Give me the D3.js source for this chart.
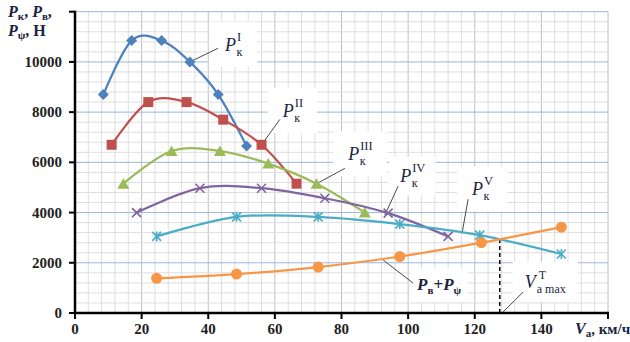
<!DOCTYPE html>
<html>
<head>
<meta charset="utf-8">
<script src="https://cdn.jsdelivr.net/npm/d3@7"></script>
<style>
  body { margin: 0; background: #fff; }
  svg { display: block; }
</style>
</head>
<body>
<svg id="chart" width="630" height="342"></svg>
<script>
// values (km/h, N)
const X_TICKS = [0, 20, 40, 60, 80, 100, 120, 140]
const Y_TICKS = [0, 2000, 4000, 6000, 8000, 10000]

const PK1 = [[8.5, 8700], [17, 10850], [26, 10850], [34.5, 10000], [43, 8700], [51.5, 6650]]
const PK2 = [[11, 6700], [22, 8400], [33.5, 8400], [44.5, 7700], [56, 6700], [66.5, 5150]]
const PK3 = [[14.5, 5150], [29, 6450], [43.5, 6450], [58, 5950], [72.5, 5150], [87, 4000]]
const PK4 = [[18.5, 4000], [37.5, 4970], [56, 4970], [75, 4570], [94, 3980], [112, 3050]]
const PK5 = [[24.5, 3050], [48.5, 3830], [73, 3830], [97.5, 3540], [121.5, 3100], [146, 2350]]
const PW = [[24.5, 1380], [48.5, 1550], [73, 1830], [97.5, 2250], [122, 2800], [146, 3420]]
const VMAX = [127.5, 2950]

const svg = d3.select('#chart')
const FONT = '"Liberation Serif", "Times New Roman", serif'
const INK = '#1b2440'

const x = d3.scaleLinear().domain([0, 160]).range([75, 608])
const y = d3.scaleLinear().domain([0, 12000]).range([313, 11.7])

// grid
const grid = svg.append('g')
grid.selectAll('line.v')
  .data(d3.range(4, 161, 4))
  .enter().append('line')
  .attr('x1', d => x(d)).attr('x2', d => x(d))
  .attr('y1', y(0)).attr('y2', y(12000))
  .attr('stroke', d => d % 20 === 0 ? '#c0c0c0' : '#dedede')
  .attr('stroke-width', 1)
grid.selectAll('line.h')
  .data(d3.range(400, 12001, 400))
  .enter().append('line')
  .attr('x1', x(0)).attr('x2', x(160))
  .attr('y1', d => y(d)).attr('y2', d => y(d))
  .attr('stroke', d => d % 2000 === 0 ? '#9ab7de' : '#dedede')
  .attr('stroke-width', 1)

// annotation label boxes + text
const labels = svg.append('g')
const leaders = svg.append('g')

function pLabel(px, py, main, sub, sup, size) {
  const g = labels.append('g')
  const t = g.append('text')
    .attr('x', x(px)).attr('y', y(py))
    .attr('font-family', FONT).attr('font-style', 'italic')
    .attr('font-size', size).attr('fill', INK)
    .text(main)
  const w = t.node().getComputedTextLength()
  g.append('text')
    .attr('x', x(px) + w + 0.5).attr('y', y(py) + 5)
    .attr('font-family', FONT).attr('font-size', 12).attr('fill', INK)
    .text(sub)
  g.append('text')
    .attr('x', x(px) + w + 1).attr('y', y(py) - 10)
    .attr('font-family', FONT).attr('font-size', 12.5).attr('fill', INK)
    .text(sup)
  return g
}

function boxIt(g, padX, padY) {
  const b = g.node().getBBox()
  g.insert('rect', ':first-child')
    .attr('x', b.x - padX).attr('y', b.y - padY)
    .attr('width', b.width + padX * 2).attr('height', b.height + padY * 2)
    .attr('fill', '#fff')
}

function leader(x1, y1, x2, y2) {
  leaders.append('line')
    .attr('x1', x(x1)).attr('y1', y(y1))
    .attr('x2', x(x2)).attr('y2', y(y2))
    .attr('stroke', '#4a4a4a').attr('stroke-width', 1)
}

boxIt(pLabel(45, 10450, 'P', 'к', 'I', 18), 15, 8)
boxIt(pLabel(62.4, 7800, 'P', 'к', 'II', 18), 14, 8)
boxIt(pLabel(82, 6080, 'P', 'к', 'III', 18), 14, 8)
boxIt(pLabel(97.6, 5200, 'P', 'к', 'IV', 18), 10, 5)
boxIt(pLabel(119.2, 4690, 'P', 'к', 'V', 18), 14, 8)

// P_в + P_ψ
const pw = labels.append('g')
const pwt = pw.append('text')
  .attr('x', x(102.7)).attr('y', y(915))
  .attr('font-family', FONT).attr('font-weight', 'bold')
  .attr('font-size', 17).attr('fill', INK)
pwt.append('tspan').attr('font-style', 'italic').text('P')
pwt.append('tspan').attr('font-size', 11).attr('dy', 4).text('в')
pwt.append('tspan').attr('dy', -4).text('+')
pwt.append('tspan').attr('font-style', 'italic').text('P')
pwt.append('tspan').attr('font-size', 11).attr('dy', 4).text('ψ')
boxIt(pw, 6, 6)

// V_a max ^T
const vm = labels.append('g')
const vt = vm.append('text')
  .attr('x', x(135)).attr('y', y(1000))
  .attr('font-family', FONT).attr('font-style', 'italic')
  .attr('font-size', 18).attr('fill', INK).text('V')
const vw = vt.node().getComputedTextLength()
vm.append('text')
  .attr('x', x(135) + vw + 1).attr('y', y(1000) + 5)
  .attr('font-family', FONT).attr('font-size', 12).attr('fill', INK).text('a max')
vm.append('text')
  .attr('x', x(135) + vw + 3).attr('y', y(1000) - 9)
  .attr('font-family', FONT).attr('font-size', 12).attr('fill', INK).text('T')
boxIt(vm, 12, 6)

// leader lines
leader(42.9, 10540, 34.5, 10000)
leader(61.5, 7710, 56, 6700)
leader(81, 5760, 72.5, 5150)
leader(97, 5050, 93, 3900)
leader(118, 4530, 116.2, 3180)
leader(101.5, 1190, 92.5, 2110)
leader(134.5, 830, 128.2, 0)

// series
const series = [
  { data: PK1, color: '#4f81bd', marker: 'diamond' },
  { data: PK2, color: '#c0504d', marker: 'square' },
  { data: PK3, color: '#9bbb59', marker: 'triangle' },
  { data: PK4, color: '#8064a2', marker: 'x' },
  { data: PK5, color: '#4bacc6', marker: 'star' },
  { data: PW, color: '#f79646', marker: 'circle' }
]

const line = d3.line()
  .x(d => x(d[0])).y(d => y(d[1]))
  .curve(d3.curveCardinal.tension(0))

// dashed V max line
svg.append('line')
  .attr('x1', x(VMAX[0])).attr('x2', x(VMAX[0]))
  .attr('y1', y(VMAX[1])).attr('y2', y(0))
  .attr('stroke', '#000').attr('stroke-width', 1.5)
  .attr('stroke-dasharray', '4,3')

series.forEach(s => {
  svg.append('path')
    .attr('d', line(s.data))
    .attr('fill', 'none')
    .attr('stroke', s.color)
    .attr('stroke-width', 2.25)

  const m = svg.append('g')
  s.data.forEach(d => {
    const cx = x(d[0]), cy = y(d[1])
    const g = m.append('g').attr('transform', `translate(${cx},${cy})`)
    if (s.marker === 'diamond') {
      g.append('path').attr('d', 'M0,-5.5L5.5,0L0,5.5L-5.5,0Z').attr('fill', s.color)
    } else if (s.marker === 'square') {
      g.append('rect').attr('x', -5).attr('y', -5).attr('width', 10).attr('height', 10).attr('fill', s.color)
    } else if (s.marker === 'triangle') {
      g.append('path').attr('d', 'M0,-5.5L6,5L-6,5Z').attr('fill', s.color)
    } else if (s.marker === 'circle') {
      g.append('circle').attr('r', 5.5).attr('fill', s.color)
    } else {
      const r = 4.5
      g.append('path')
        .attr('d', `M${-r},${-r}L${r},${r}M${-r},${r}L${r},${-r}` + (s.marker === 'star' ? `M0,${-r - 0.5}L0,${r + 0.5}` : ''))
        .attr('stroke', s.color).attr('stroke-width', 1.6).attr('fill', 'none')
    }
  })
})

// axes
const axes = svg.append('g').attr('font-family', FONT)
axes.append('line')
  .attr('x1', x(0)).attr('x2', x(0)).attr('y1', y(12000) - 1).attr('y2', y(0) + 1)
  .attr('stroke', '#000').attr('stroke-width', 2.5)
axes.append('line')
  .attr('x1', x(0) - 1).attr('x2', x(160) + 1).attr('y1', y(0)).attr('y2', y(0))
  .attr('stroke', '#000').attr('stroke-width', 2.5)

axes.selectAll('line.yt')
  .data(d3.range(0, 12001, 2000))
  .enter().append('line')
  .attr('x1', x(0) - 6).attr('x2', x(0))
  .attr('y1', d => y(d)).attr('y2', d => y(d))
  .attr('stroke', '#000').attr('stroke-width', 2)
axes.selectAll('line.xt')
  .data(d3.range(0, 161, 20))
  .enter().append('line')
  .attr('x1', d => x(d)).attr('x2', d => x(d))
  .attr('y1', y(0)).attr('y2', y(0) + 6)
  .attr('stroke', '#000').attr('stroke-width', 2)

axes.selectAll('text.yl')
  .data(Y_TICKS)
  .enter().append('text')
  .attr('x', x(0) - 13).attr('y', d => y(d) + 5)
  .attr('text-anchor', 'end')
  .attr('font-size', 15).attr('font-weight', 'bold').attr('fill', '#222')
  .text(d => d)
axes.selectAll('text.xl')
  .data(X_TICKS)
  .enter().append('text')
  .attr('x', d => x(d)).attr('y', y(0) + 21)
  .attr('text-anchor', 'middle')
  .attr('font-size', 15).attr('font-weight', 'bold').attr('fill', '#222')
  .text(d => d)

// axis titles
const yt1 = axes.append('text').attr('x', 8).attr('y', 17)
  .attr('font-size', 16).attr('font-weight', 'bold').attr('fill', INK)
yt1.append('tspan').attr('font-style', 'italic').text('P')
yt1.append('tspan').attr('font-size', 11).attr('dy', 3).text('к')
yt1.append('tspan').attr('dy', -3).text(', ')
yt1.append('tspan').attr('font-style', 'italic').text('P')
yt1.append('tspan').attr('font-size', 11).attr('dy', 3).text('в')
yt1.append('tspan').attr('dy', -3).text(',')
const yt2 = axes.append('text').attr('x', 8).attr('y', 36)
  .attr('font-size', 16).attr('font-weight', 'bold').attr('fill', INK)
yt2.append('tspan').attr('font-style', 'italic').text('P')
yt2.append('tspan').attr('font-size', 11).attr('dy', 3).text('ψ')
yt2.append('tspan').attr('dy', -3).text(', H')

const xt = axes.append('text').attr('x', 575).attr('y', y(0) + 21)
  .attr('font-size', 16).attr('font-weight', 'bold').attr('fill', INK)
xt.append('tspan').attr('font-style', 'italic').text('V')
xt.append('tspan').attr('font-size', 11).attr('dy', 3).text('a')
xt.append('tspan').attr('dy', -3).attr('font-size', 15).text(', км/ч')
</script>
</body>
</html>
